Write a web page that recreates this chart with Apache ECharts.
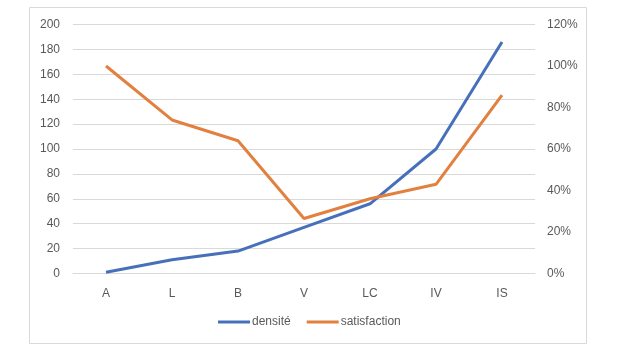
<!DOCTYPE html>
<html>
<head>
<meta charset="utf-8">
<script src="https://cdn.jsdelivr.net/npm/echarts@6/dist/echarts.min.js"></script>
<style>
  html, body { margin: 0; padding: 0; background: #fff; }
  #chart { width: 627px; height: 351px; }
</style>
</head>
<body>
<div id="chart"></div>
<script>
const categories = ["A", "L", "B", "V", "LC", "IV", "IS"];
const densite = [1, 11, 18, 37, 56, 100, 186];
const satisfaction = [1.0, 0.74, 0.64, 0.265, 0.36, 0.43, 0.86];

const textColor = "#595959";
const gridColor = "#d9d9d9";
const font = "Liberation Sans";
const blue = "#4770BA";
const orange = "#E2803F";

const chart = echarts.init(document.getElementById("chart"));
chart.setOption({
  animation: false,
  backgroundColor: "#fff",
  graphic: [{
    type: "rect",
    shape: { x: 29.5, y: 7.5, width: 557, height: 336 },
    style: { fill: "none", stroke: gridColor, lineWidth: 1 },
    silent: true
  }],
  grid: { left: 73, right: 92, top: 24.5, bottom: 77.5 },
  legend: {
    bottom: 18,
    left: 213,
    itemWidth: 32,
    itemHeight: 3,
    itemGap: 16,
    icon: "rect",
    textStyle: { color: textColor, fontFamily: font, fontSize: 12, padding: [0, 0, 0, -3] },
    data: ["densité", "satisfaction"]
  },
  xAxis: {
    type: "category",
    data: categories,
    boundaryGap: true,
    axisLine: { lineStyle: { color: gridColor } },
    axisTick: { show: false },
    axisLabel: { color: textColor, fontFamily: font, fontSize: 12, margin: 14 }
  },
  yAxis: [{
    type: "value",
    min: 0, max: 200, interval: 20,
    axisLine: { show: false },
    axisTick: { show: false },
    axisLabel: { color: textColor, fontFamily: font, fontSize: 12, margin: 13 },
    splitLine: { lineStyle: { color: gridColor, width: 1 } }
  }, {
    type: "value",
    min: 0, max: 1.2, interval: 0.2,
    axisLine: { show: false },
    axisTick: { show: false },
    axisLabel: {
      color: textColor, fontFamily: font, fontSize: 12, margin: 12,
      formatter: (v) => Math.round(v * 100) + "%"
    },
    splitLine: { show: false }
  }],
  series: [{
    name: "densité",
    type: "line",
    data: densite,
    yAxisIndex: 0,
    showSymbol: false,
    lineStyle: { color: blue, width: 3 },
    itemStyle: { color: blue }
  }, {
    name: "satisfaction",
    type: "line",
    data: satisfaction,
    yAxisIndex: 1,
    showSymbol: false,
    lineStyle: { color: orange, width: 3 },
    itemStyle: { color: orange }
  }]
});
</script>
</body>
</html>
